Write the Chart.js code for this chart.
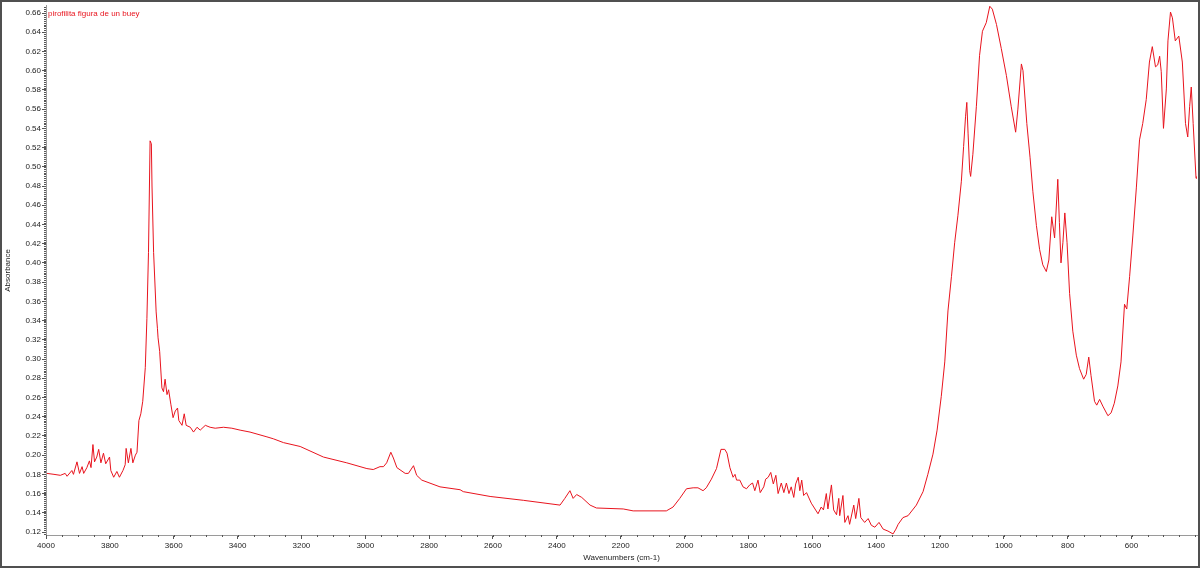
<!DOCTYPE html>
<html>
<head>
<meta charset="utf-8">
<title>pirofilita figura de un buey</title>
<script src="https://cdn.jsdelivr.net/npm/chart.js@4.4.1/dist/chart.umd.min.js"></script>
<style>
    html, body { margin: 0; padding: 0; background: #ffffff; }
    canvas { display: block; }
</style>
</head>
<body>
<canvas id="spectrum" width="1200" height="568"></canvas>
<script>
const spectrumName = 'pirofilita figura de un buey';

// wavenumber (cm-1), high to low
const wavenumbers = [
    3997, 3975, 3955, 3940, 3934, 3919, 3914, 3903, 3895, 3887, 3882, 3872, 3864, 3859, 3853, 3848,
    3841, 3835, 3828, 3820, 3813, 3801, 3797, 3788, 3778, 3770, 3759, 3752, 3749, 3742, 3734, 3728,
    3720, 3715, 3709, 3703, 3697, 3689, 3684, 3679, 3676, 3674, 3670, 3668, 3663, 3655, 3651, 3649,
    3644, 3637, 3632, 3627, 3621, 3616, 3609, 3602, 3595, 3588, 3584, 3574, 3567, 3561, 3548, 3538,
    3527, 3517, 3501, 3486, 3470, 3444, 3418, 3392, 3361, 3308, 3288, 3256, 3204, 3131, 3058, 2995,
    2975, 2954, 2943, 2933, 2920, 2912, 2901, 2875, 2865, 2849, 2839, 2823, 2766, 2703, 2693, 2609,
    2505, 2390, 2375, 2359, 2349, 2338, 2322, 2296, 2276, 2192, 2161, 2057, 2036, 2015, 1994, 1973,
    1958, 1942, 1932, 1916, 1900, 1886, 1874, 1867, 1858, 1848, 1842, 1837, 1827, 1817, 1806, 1796,
    1787, 1780, 1770, 1763, 1752, 1746, 1738, 1730, 1722, 1714, 1707, 1697, 1689, 1681, 1673, 1666,
    1658, 1652, 1644, 1639, 1633, 1627, 1618, 1603, 1582, 1572, 1565, 1556, 1551, 1540, 1533, 1524,
    1517, 1514, 1504, 1498, 1488, 1483, 1470, 1464, 1454, 1448, 1436, 1425, 1415, 1404, 1391, 1378,
    1363, 1347, 1338, 1331, 1316, 1300, 1274, 1253, 1238, 1222, 1209, 1196, 1185, 1175, 1164, 1154,
    1144, 1133, 1126, 1120, 1116, 1112, 1107, 1104, 1097, 1086, 1076, 1067, 1055, 1044, 1036, 1023,
    1008, 992, 977, 963, 956, 945, 940, 928, 918, 909, 898, 888, 878, 867, 859, 850,
    841, 831, 826, 821, 815, 809, 802, 794, 784, 773, 763, 750, 742, 734, 727, 716,
    709, 700, 690, 674, 664, 654, 643, 633, 622, 615, 606, 596, 585, 575, 565, 554,
    544, 535, 525, 518, 512, 507, 500, 491, 486, 478, 472, 463, 452, 441, 431, 424,
    418, 413, 407, 398, 396
];

const absorbance = [
    0.181, 0.180, 0.179, 0.181, 0.178, 0.184, 0.180, 0.193, 0.181, 0.188, 0.181, 0.187, 0.194, 0.187, 0.211, 0.193,
    0.198, 0.206, 0.192, 0.202, 0.191, 0.198, 0.184, 0.177, 0.183, 0.177, 0.184, 0.190, 0.207, 0.192, 0.207, 0.192,
    0.200, 0.203, 0.236, 0.243, 0.256, 0.291, 0.342, 0.411, 0.480, 0.527, 0.524, 0.480, 0.411, 0.349, 0.332, 0.322,
    0.308, 0.270, 0.266, 0.279, 0.263, 0.268, 0.253, 0.239, 0.246, 0.249, 0.236, 0.231, 0.243, 0.231, 0.229, 0.224,
    0.229, 0.226, 0.231, 0.229, 0.228, 0.229, 0.228, 0.226, 0.224, 0.219, 0.217, 0.213, 0.209, 0.198, 0.192, 0.186,
    0.185, 0.188, 0.188, 0.192, 0.203, 0.197, 0.187, 0.181, 0.181, 0.189, 0.179, 0.174, 0.167, 0.164, 0.162, 0.157,
    0.153, 0.148, 0.155, 0.163, 0.155, 0.159, 0.156, 0.148, 0.145, 0.144, 0.142, 0.142, 0.146, 0.155, 0.165, 0.166,
    0.166, 0.163, 0.166, 0.175, 0.186, 0.206, 0.206, 0.202, 0.187, 0.177, 0.180, 0.174, 0.174, 0.167, 0.165, 0.169,
    0.171, 0.163, 0.174, 0.161, 0.167, 0.175, 0.177, 0.182, 0.170, 0.179, 0.160, 0.171, 0.161, 0.171, 0.160, 0.167,
    0.156, 0.170, 0.177, 0.163, 0.174, 0.158, 0.161, 0.150, 0.139, 0.146, 0.143, 0.160, 0.144, 0.169, 0.143, 0.138,
    0.155, 0.137, 0.158, 0.130, 0.137, 0.128, 0.148, 0.134, 0.155, 0.135, 0.130, 0.134, 0.127, 0.125, 0.130, 0.123,
    0.121, 0.118, 0.123, 0.128, 0.135, 0.137, 0.148, 0.162, 0.180, 0.201, 0.226, 0.261, 0.297, 0.350, 0.386, 0.421,
    0.449, 0.485, 0.521, 0.552, 0.567, 0.535, 0.496, 0.490, 0.513, 0.563, 0.616, 0.641, 0.650, 0.667, 0.664, 0.648,
    0.623, 0.595, 0.563, 0.536, 0.560, 0.607, 0.600, 0.545, 0.510, 0.474, 0.439, 0.414, 0.398, 0.391, 0.403, 0.448,
    0.426, 0.487, 0.442, 0.400, 0.421, 0.452, 0.421, 0.368, 0.329, 0.304, 0.290, 0.279, 0.284, 0.302, 0.283, 0.256,
    0.252, 0.258, 0.251, 0.241, 0.244, 0.254, 0.272, 0.297, 0.357, 0.352, 0.386, 0.428, 0.478, 0.528, 0.545, 0.570,
    0.609, 0.625, 0.604, 0.606, 0.615, 0.599, 0.540, 0.581, 0.631, 0.661, 0.655, 0.631, 0.636, 0.609, 0.545, 0.531,
    0.563, 0.583, 0.545, 0.488, 0.490
];

const xTickLabels = [4000, 3800, 3600, 3400, 3200, 3000, 2800, 2600, 2400, 2200, 2000, 1800, 1600, 1400, 1200, 1000, 800, 600];
const yTickLabels = [0.12, 0.14, 0.16, 0.18, 0.20, 0.22, 0.24, 0.26, 0.28, 0.30, 0.32, 0.34, 0.36, 0.38, 0.40,
    0.42, 0.44, 0.46, 0.48, 0.50, 0.52, 0.54, 0.56, 0.58, 0.60, 0.62, 0.64, 0.66];

const lineColor = '#e8141e';
const fontFamily = '"Liberation Sans", Arial, sans-serif';

// small ticks between the labelled ones, and the outer frame
const extrasPlugin = {
    id: 'extras',
    afterDraw(chart){
        const ctx = chart.ctx;
        const xs = chart.scales.x;
        const ys = chart.scales.y;
        const area = chart.chartArea;
        ctx.save();
        ctx.strokeStyle = '#555555';
        ctx.lineWidth = 1;
        ctx.beginPath();
        for(let w = 4000; w >= xs.min; w -= 50){
            let px = Math.round(xs.getPixelForValue(w)) + 0.5;
            ctx.moveTo(px, area.bottom);
            ctx.lineTo(px, area.bottom + 2);
        }
        for(let i = 0; i <= 280; i++){
            let v = 0.118 + i * 0.002;
            if(v > ys.max) break;
            let py = Math.round(ys.getPixelForValue(v)) + 0.5;
            ctx.moveTo(area.left - 2, py);
            ctx.lineTo(area.left, py);
        }
        ctx.stroke();

        ctx.fillStyle = lineColor;
        ctx.font = '8px ' + fontFamily;
        ctx.textBaseline = 'middle';
        ctx.textAlign = 'left';
        ctx.fillText(spectrumName, area.left + 2, area.top + 8);

        ctx.strokeStyle = '#505050';
        ctx.lineWidth = 2;
        ctx.strokeRect(1, 1, chart.width - 2, chart.height - 2);
        ctx.restore();
    }
};

function drawSpectrum(){
    const points = wavenumbers.map((w, i) => ({x: w, y: absorbance[i]}));

    const config = {
        type: 'line',
        data: {
            datasets: [{
                label: spectrumName,
                data: points,
                borderColor: lineColor,
                borderWidth: 1,
                pointRadius: 0,
                tension: 0,
                fill: false
            }]
        },
        options: {
            responsive: false,
            animation: false,
            devicePixelRatio: 1,
            layout: { padding: { top: 2, right: 3, left: 0, bottom: 0 } },
            plugins: {
                legend: { display: false },
                tooltip: { enabled: false }
            },
            scales: {
                x: {
                    type: 'linear',
                    reverse: true,
                    min: 395,
                    max: 4000,
                    afterBuildTicks: scale => { scale.ticks = xTickLabels.map(v => ({value: v})); },
                    afterFit: scale => { scale.height = 33; },
                    ticks: {
                        color: '#222222',
                        font: { family: fontFamily, size: 8 },
                        padding: 2,
                        maxRotation: 0,
                        autoSkip: false,
                        callback: value => String(value)
                    },
                    grid: { drawOnChartArea: false, drawTicks: true, tickLength: 4, color: '#555555' },
                    border: { color: '#9a9a9a' },
                    title: {
                        display: true,
                        text: 'Wavenumbers (cm-1)',
                        color: '#222222',
                        font: { family: fontFamily, size: 8 },
                        padding: { top: 0, bottom: 5 }
                    }
                },
                y: {
                    min: 0.1169,
                    max: 0.6675,
                    afterBuildTicks: scale => { scale.ticks = yTickLabels.map(v => ({value: v})); },
                    afterFit: scale => { scale.width = 46; },
                    ticks: {
                        color: '#222222',
                        font: { family: fontFamily, size: 8 },
                        padding: 1,
                        autoSkip: false,
                        callback: value => value.toFixed(2)
                    },
                    grid: { drawOnChartArea: false, drawTicks: true, tickLength: 4, color: '#555555' },
                    border: { color: '#9a9a9a' },
                    title: {
                        display: true,
                        text: 'Absorbance',
                        color: '#222222',
                        font: { family: fontFamily, size: 8 },
                        padding: { top: 3, bottom: 0 }
                    }
                }
            }
        },
        plugins: [extrasPlugin]
    };

    new Chart(document.getElementById('spectrum'), config);
}

document.addEventListener('DOMContentLoaded', function(){
    drawSpectrum();
});
</script>
</body>
</html>
